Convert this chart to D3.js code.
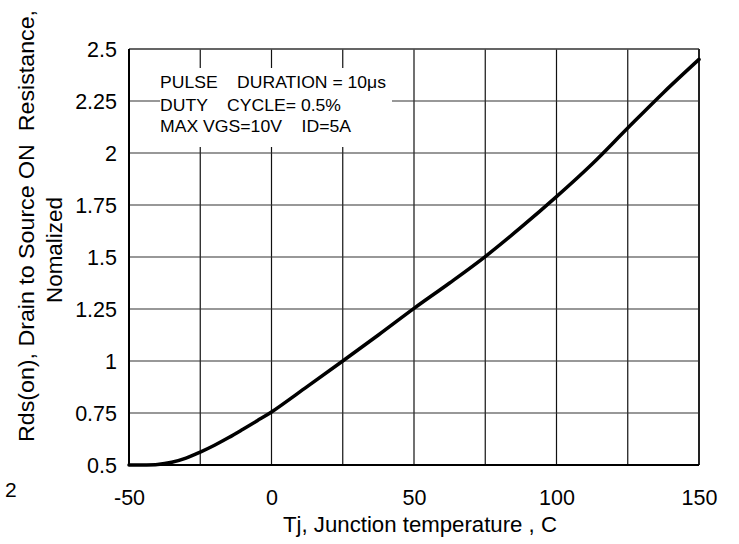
<!DOCTYPE html>
<html><head><meta charset="utf-8">
<script src="https://cdn.jsdelivr.net/npm/d3@7"></script>
<style>body{margin:0;background:#fff}svg{display:block;font-family:"Liberation Sans",Arial,sans-serif}</style>
</head><body><svg id="c" width="739" height="544"></svg>
<script>
const temps = [-50,-45,-40,-35,-30,-25,-20,-15,-10,-5,0,12.5,25,37.5,50,62.5,75,87.5,100,112.5,125,137.5,150];
const rds = [0.5,0.5,0.502,0.513,0.533,0.562,0.595,0.632,0.672,0.713,0.755,0.877,1.0,1.125,1.253,1.375,1.502,1.642,1.79,1.947,2.12,2.29,2.45];
const xTicks = [-50,0,50,100,150];
const xGrid = [-50,-25,0,25,50,75,100,125,150];
const yTicks = [0.5,0.75,1,1.25,1.5,1.75,2,2.25,2.5];
const noteLines = ["PULSE    DURATION = 10\u03bcs","DUTY    CYCLE= 0.5%","MAX VGS=10V    ID=5A"];

const svg = d3.select("#c");
const L=129,R=699,T=49,B=465;
const x = d3.scaleLinear().domain([-50,150]).range([L,R]);
const y = d3.scaleLinear().domain([0.5,2.5]).range([B,T]);

// grid
svg.append("g").selectAll("line").data(xGrid).join("line")
  .attr("x1",d=>x(d)).attr("x2",d=>x(d)).attr("y1",T).attr("y2",B)
  .attr("stroke","#111").attr("stroke-width",1.2);
svg.append("g").selectAll("line").data(yTicks).join("line")
  .attr("x1",L).attr("x2",R).attr("y1",d=>y(d)).attr("y2",d=>y(d))
  .attr("stroke","#333").attr("stroke-width",1.2);

// note box background
svg.append("rect").attr("x",160).attr("y",68).attr("width",232).attr("height",79).attr("fill","#fff");
const noteLen = [226,181,191];
const noteY = [88,111,132];
svg.append("g").selectAll("text").data(noteLines).join("text")
  .attr("x",160).attr("y",(d,i)=>noteY[i])
  .attr("font-size",16.5).attr("fill","#000")
  .attr("textLength",(d,i)=>noteLen[i]).attr("lengthAdjust","spacingAndGlyphs")
  .style("white-space","pre").attr("xml:space","preserve")
  .text(d=>d);

// frame
svg.append("line").attr("x1",L).attr("x2",R).attr("y1",T).attr("y2",T).attr("stroke","#555").attr("stroke-width",1.5);
svg.append("line").attr("x1",R).attr("x2",R).attr("y1",T).attr("y2",B).attr("stroke","#222").attr("stroke-width",2);
svg.append("line").attr("x1",L).attr("x2",L).attr("y1",T).attr("y2",B).attr("stroke","#000").attr("stroke-width",2);
svg.append("line").attr("x1",L).attr("x2",R).attr("y1",B).attr("y2",B).attr("stroke","#000").attr("stroke-width",2);

// axes (labels only)
const xa = svg.append("g").attr("transform",`translate(0,${B})`)
  .call(d3.axisBottom(x).tickValues(xTicks).tickSize(0).tickPadding(0).tickFormat(d=>String(d)));
xa.select(".domain").remove();
xa.selectAll("text").attr("dy",null).attr("y",40).attr("font-size",21.5).attr("font-family","Liberation Sans, Arial, sans-serif").attr("fill","#000");

const ya = svg.append("g").attr("transform",`translate(${L},0)`)
  .call(d3.axisLeft(y).tickValues(yTicks).tickSize(0).tickPadding(12).tickFormat(d=>String(d)));
ya.select(".domain").remove();
ya.selectAll("text").attr("dy","0.34em").attr("font-size",21.5).attr("font-family","Liberation Sans, Arial, sans-serif").attr("fill","#000");

// curve
svg.append("path").datum(temps.map((t,i)=>[t,rds[i]]))
  .attr("d",d3.line().x(d=>x(d[0])).y(d=>y(d[1])).curve(d3.curveCatmullRom.alpha(0.5)))
  .attr("fill","none").attr("stroke","#000").attr("stroke-width",3.5).attr("stroke-linecap","round");

// axis titles
svg.append("text").attr("x",420).attr("y",532).attr("text-anchor","middle").attr("font-size",22)
  .attr("textLength",274).attr("lengthAdjust","spacingAndGlyphs").text("Tj, Junction temperature , C");
svg.append("text").attr("transform","translate(34,226) rotate(-90)").attr("text-anchor","middle").attr("font-size",22)
  .attr("textLength",432).attr("lengthAdjust","spacingAndGlyphs")
  .attr("xml:space","preserve").style("white-space","pre").text("Rds(on), Drain to Source ON  Resistance,");
svg.append("text").attr("transform","translate(62,250) rotate(-90)").attr("text-anchor","middle").attr("font-size",22)
  .attr("textLength",106).attr("lengthAdjust","spacingAndGlyphs").text("Nomalized");
svg.append("text").attr("x",5).attr("y",497).attr("font-size",21).text("2");
</script></body></html>
